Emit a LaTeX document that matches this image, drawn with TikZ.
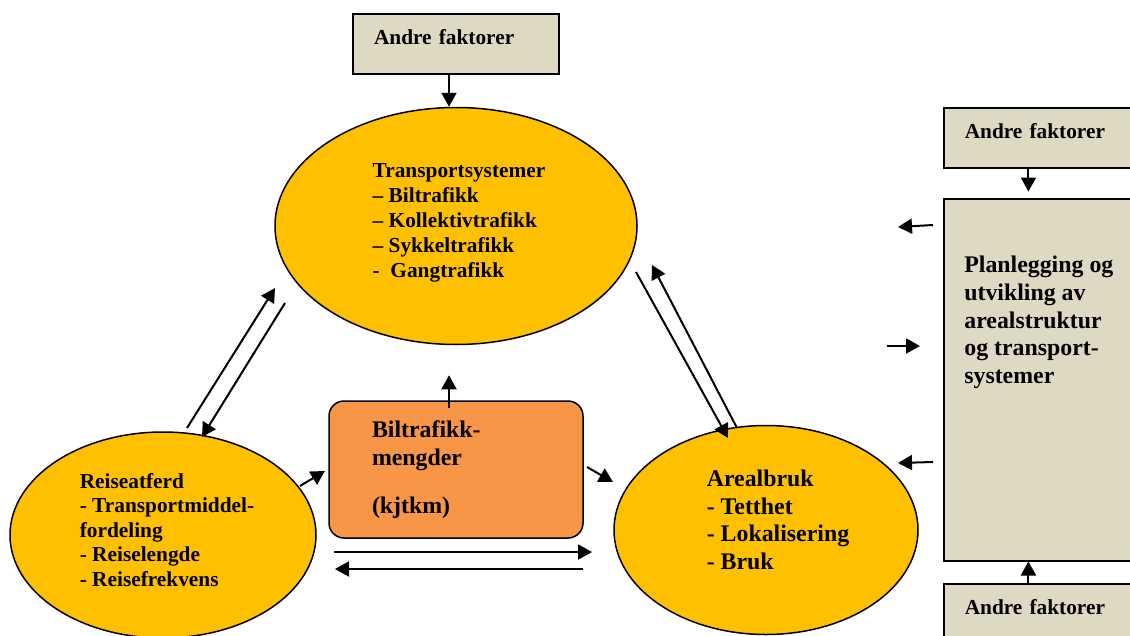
\documentclass[tikz,border=0pt]{standalone}
\usepackage{fontspec}
\setmainfont{Liberation Serif}
\usepackage{tikz}
\usetikzlibrary{shapes.geometric, arrows.meta, positioning}
\definecolor{gold}{HTML}{FFC000}
\definecolor{tan}{HTML}{DDD9C3}
\definecolor{orangebox}{HTML}{F79646}
\newcommand{\smallbf}{\fontsize{12.8pt}{14.9pt}\selectfont\bfseries}
\newcommand{\largebf}{\fontsize{14.3pt}{16.6pt}\selectfont\bfseries}
\tikzstyle{arrow} = [line width=1.2pt, -{Triangle[length=8.4pt, width=9pt]}]
\tikzstyle{oval} = [ellipse, draw, fill=gold, line width=0.9pt, inner sep=0pt]
\tikzstyle{ovaltext} = [inner sep=0pt, align=left]
\tikzstyle{factorbox} = [rectangle, draw, fill=tan, line width=0.9pt,
    minimum width=123.6pt, minimum height=36pt, text width=98.4pt,
    inner xsep=12.6pt, text depth=8pt, align=left, font=\smallbf]

\begin{document}
\begin{tikzpicture}[x=0.6pt, y=-0.6pt]
	\useasboundingbox (0,0) rectangle (1130,635);
	% the three ovals
	\node [oval, minimum width=217.2pt, minimum height=142.2pt,
		label={[ovaltext, font=\smallbf, xshift=1.8pt, yshift=1.8pt]center:
		Transportsystemer\\ -- Biltrafikk\\ -- Kollektivtrafikk\\
		-- Sykkeltrafikk\\ -\ \ Gangtrafikk}] (Transport) at (456,226) {};
	\node [oval, minimum width=183.6pt, minimum height=123.6pt,
		label={[ovaltext, font=\fontsize{12.8pt}{14.7pt}\selectfont\bfseries,
		xshift=2.4pt, yshift=3pt]center:
		Reiseatferd\\ - Transportmiddel-\\ fordeling\\
		- Reiselengde\\ - Reisefrekvens}] (Reise) at (163,535) {};
	\node [oval, minimum width=182.4pt, minimum height=125.4pt,
		label={[ovaltext, font=\largebf, xshift=7.2pt, yshift=6pt]center:
		Arealbruk\\ - Tetthet\\ - Lokalisering\\ - Bruk}] (Areal) at (766,530) {};
	% car traffic box
	\node [rectangle, rounded corners=9pt, draw, fill=orangebox,
		line width=0.9pt, minimum width=152.4pt, minimum height=82.2pt,
		text width=100.8pt, inner xsep=25.8pt, align=left,
		font=\largebf] (Biltrafikk) at (456,469.5)
		{Biltrafikk-\\ mengder\\[12pt] (kjtkm)};
	% other factors and planning
	\node [factorbox] (Andre_top) at (456,44) {Andre faktorer};
	\node [factorbox, anchor=north west] (Andre_right) at (943,107)
		{Andre faktorer};
	\node [rectangle, draw, fill=tan, line width=0.9pt, anchor=north west,
		minimum width=123.6pt, minimum height=217.2pt,
		label={[anchor=north west, inner sep=0pt, xshift=12.6pt,
		yshift=-34.8pt, align=left, font=\largebf]north west:
		Planlegging og\\ utvikling av\\ arealstruktur\\ og transport-\\ systemer}]
		(Plan) at (943,198) {};
	\node [factorbox, anchor=north west] (Andre_bottom) at (943,583)
		{Andre faktorer};
	% loose arrow ends
	\coordinate (ReiseUpA) at (187,428);
	\coordinate (ReiseUpB) at (275,288);
	\coordinate (TransDownA) at (285,303);
	\coordinate (TransDownB) at (202,437);
	\coordinate (TransRightA) at (636,272);
	\coordinate (TransRightB) at (728,438);
	\coordinate (ArealUpA) at (737,428);
	\coordinate (ArealUpB) at (652,265);
	\coordinate (ReiseOut) at (300,486);
	\coordinate (BilIn) at (325,471);
	\coordinate (BilOut) at (587,467);
	\coordinate (ArealIn) at (613,482);
	\coordinate (LowRightA) at (334,552);
	\coordinate (LowRightB) at (592,552);
	\coordinate (LowLeftA) at (583,569);
	\coordinate (LowLeftB) at (335,569);
	\coordinate (PlanOutA) at (933,225);
	\coordinate (PlanOutB) at (898,227);
	\coordinate (PlanInA) at (887,346);
	\coordinate (PlanInB) at (920,346);
	\coordinate (PlanOutC) at (933,462);
	\coordinate (PlanOutD) at (898,463);
	% arrows
	\draw [arrow] ([xshift=-4.2pt]Andre_top.south) -- ([xshift=-4.2pt]Transport.north);
	\draw [arrow] ([xshift=-4.2pt,yshift=-4.8pt]Biltrafikk.north) -- ++(0,-33);
	\draw [arrow] (ReiseUpA) -- (ReiseUpB);
	\draw [arrow] (TransDownA) -- (TransDownB);
	\draw [arrow] (TransRightA) -- (TransRightB);
	\draw [arrow] (ArealUpA) -- (ArealUpB);
	\draw [arrow] (ReiseOut) -- (BilIn);
	\draw [arrow] (BilOut) -- (ArealIn);
	\draw [arrow] (LowRightA) -- (LowRightB);
	\draw [arrow] (LowLeftA) -- (LowLeftB);
	\draw [arrow] ([xshift=-11pt]Andre_right.south) -- ++(0,23);
	\draw [arrow] ([xshift=-11pt]Andre_bottom.north) -- ([xshift=-11pt]Andre_bottom.north |- Plan.south);
	\draw [arrow] (PlanOutA) -- (PlanOutB);
	\draw [arrow] (PlanInA) -- (PlanInB);
	\draw [arrow] (PlanOutC) -- (PlanOutD);
\end{tikzpicture}
\end{document}
